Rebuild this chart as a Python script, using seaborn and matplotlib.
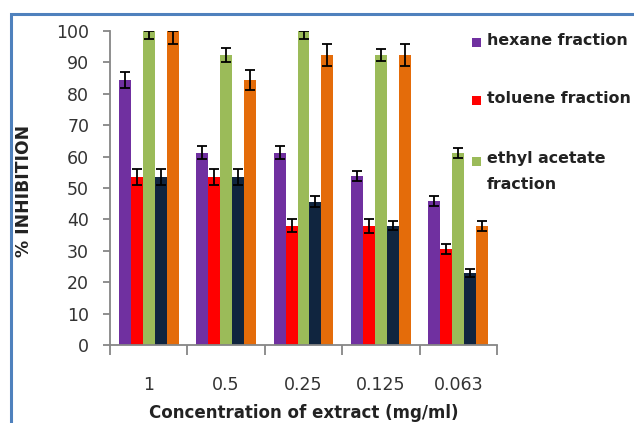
import numpy as np
import pandas as pd
import matplotlib
matplotlib.use("Agg")
import matplotlib.pyplot as plt
import seaborn as sns
from matplotlib.patches import Rectangle

# ---- data ----
categories = ["1", "0.5", "0.25", "0.125", "0.063"]
series = ["hexane fraction", "toluene fraction", "ethyl acetate\nfraction",
          "series 4", "series 5"]
hexane = [84.4, 61.3, 61.3, 53.8, 45.8]
toluene = [53.6, 53.6, 38.0, 38.0, 30.6]
ethyl = [100.0, 92.3, 100.0, 92.3, 61.0]
s4 = [53.6, 53.6, 45.6, 38.0, 22.8]
s5 = [100.0, 84.4, 92.3, 92.3, 38.0]
err_hexane = [2.6, 2.0, 2.0, 1.6, 1.5]
err_toluene = [2.6, 2.6, 2.0, 2.2, 1.6]
err_ethyl = [2.6, 2.3, 2.6, 2.0, 1.6]
err_s4 = [2.6, 2.6, 1.8, 1.5, 1.3]
err_s5 = [4.0, 3.3, 3.5, 3.5, 1.6]
colors = ["#7030a0", "#ff0000", "#9bbb59", "#10253f", "#e46c0a"]
y_ticks = [0, 10, 20, 30, 40, 50, 60, 70, 80, 90, 100]

values = [hexane, toluene, ethyl, s4, s5]
errors = [err_hexane, err_toluene, err_ethyl, err_s4, err_s5]

rows = []
for s, vals, errs in zip(series, values, errors):
    for c, v, e in zip(categories, vals, errs):
        rows.append({"cat": c, "series": s, "value": v, "err": e})
df = pd.DataFrame(rows)

sns.set_style("white")
plt.rcParams["font.family"] = ["DejaVu Sans"]

W, H = 634, 423
fig = plt.figure(figsize=(W / 100, H / 100), dpi=100)
ax = fig.add_axes([110 / W, 1 - 345 / H, 387 / W, 314 / H])

sns.barplot(data=df, x="cat", y="value", hue="series", order=categories,
            hue_order=series, palette=colors, width=0.775, gap=0,
            saturation=1, errorbar=None, legend=False, linewidth=0, ax=ax)

# error bars
for cont, s in zip(ax.containers, series):
    sub = df[df["series"] == s].set_index("cat").loc[categories]
    xs = [p.get_x() + p.get_width() / 2 for p in cont.patches]
    v = sub["value"].to_numpy()
    e = sub["err"].to_numpy()
    upper = np.minimum(e, 100 - v)
    ax.errorbar(xs, v, yerr=[e, upper], fmt="none", ecolor="black",
                elinewidth=1.3, capsize=3.5, capthick=1.3, zorder=5)

ax.set_ylim(0, 100)
ax.set_xlim(-0.5, len(categories) - 0.5)
ax.set_yticks(y_ticks)
ax.set_yticklabels([str(t) for t in y_ticks])
ax.set_xticks(np.arange(-0.5, len(categories), 1.0))
ax.set_xticklabels([])
ax.set_xticks(np.arange(len(categories)), minor=True)
ax.set_xticklabels(categories, minor=True)

gray = "#868686"
for sp in ["top", "right"]:
    ax.spines[sp].set_visible(False)
for sp in ["left", "bottom"]:
    ax.spines[sp].set_color(gray)
    ax.spines[sp].set_linewidth(1.3)

ax.tick_params(axis="y", which="major", left=True, length=5, width=1.3,
               color=gray, direction="out", pad=10, labelsize=12.5,
               labelcolor="#333333")
ax.tick_params(axis="x", which="major", bottom=True, length=7, width=1.3,
               color=gray, direction="out")
ax.tick_params(axis="x", which="minor", bottom=True, length=0, pad=22,
               labelsize=12.5, labelcolor="#333333")

ax.set_xlabel("Concentration of extract (mg/ml)", fontsize=12,
              fontweight="bold", color="#222222")
ax.set_ylabel("% INHIBITION", fontsize=12.3, fontweight="bold",
              color="#222222")
ax.xaxis.set_label_coords(0.5, (345 - 404) / 314)
ax.yaxis.set_label_coords((33 - 110) / 387, 0.49)

# legend (only the first three entries are visible in the reference)
leg_y = [43, 101, 161]
for c, lab, y in zip(colors[:3], series[:3], leg_y):
    fig.patches.append(Rectangle((472 / W, 1 - (y + 4.5) / H), 9 / W, 9 / H,
                                 transform=fig.transFigure, facecolor=c,
                                 edgecolor="none"))
    fig.text(487 / W, 1 - (y - 10) / H, lab, ha="left", va="top",
             fontsize=11.4, fontweight="bold", color="#222222",
             linespacing=1.9)

# blue frame around the chart area
fig.patches.append(Rectangle((11 / W, -0.1), 1.2, (H - 14) / H + 0.1,
                             transform=fig.transFigure, fill=False,
                             edgecolor="#4f81bd", linewidth=2.2))

fig.savefig("out.png", dpi=100)
